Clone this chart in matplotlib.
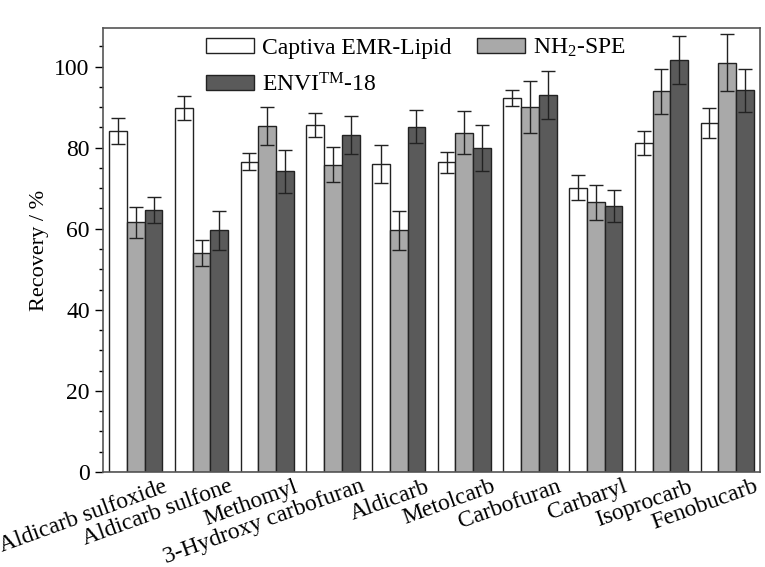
import matplotlib
matplotlib.use("Agg")
import matplotlib.pyplot as plt
import matplotlib.transforms as mtransforms
import numpy as np

plt.rcParams["font.family"] = ["Liberation Serif", "DejaVu Serif"]
plt.rcParams["mathtext.fontset"] = "custom"
plt.rcParams["mathtext.rm"] = "Liberation Serif"
plt.rcParams["mathtext.it"] = "Liberation Serif:italic"

compounds = [
    "Aldicarb sulfoxide", "Aldicarb sulfone", "Methomyl", "3-Hydroxy carbofuran",
    "Aldicarb", "Metolcarb", "Carbofuran", "Carbaryl", "Isoprocarb", "Fenobucarb",
]
series_labels = ["Captiva EMR-Lipid", "NH$_2$-SPE", "ENVI$^{\\mathrm{TM}}$-18"]

captiva = [84.0, 89.8, 76.5, 85.5, 75.9, 76.4, 92.2, 70.1, 81.2, 86.1]
captiva_err = [3.2, 3.0, 2.1, 3.0, 4.7, 2.6, 2.0, 3.1, 3.0, 3.7]
nh2 = [61.6, 54.0, 85.4, 75.8, 59.6, 83.7, 90.0, 66.5, 93.9, 100.9]
nh2_err = [3.8, 3.3, 4.7, 4.3, 4.8, 5.3, 6.4, 4.3, 5.5, 7.0]
envi = [64.6, 59.6, 74.2, 83.2, 85.2, 80.0, 92.9, 65.6, 101.6, 94.1]
envi_err = [3.3, 4.8, 5.3, 4.7, 4.0, 5.7, 5.9, 4.0, 6.0, 5.2]

values = [captiva, nh2, envi]
errors = [captiva_err, nh2_err, envi_err]
colors = ["#ffffff", "#a9a9a9", "#5a5a5a"]

fig = plt.figure(figsize=(7.65, 5.67), dpi=100)
ax = fig.add_axes([0.1346, 0.1675, 0.8589, 0.7831])

x = np.arange(len(compounds))
width = 0.27
handles = []
for k in range(3):
    b = ax.bar(x + (k - 1) * width, values[k], width, color=colors[k],
               edgecolor="#222222", linewidth=1.0,
               yerr=errors[k], capsize=5,
               error_kw=dict(ecolor="#222222", elinewidth=1.0, capthick=1.0))
    handles.append(b)

ax.set_xlim(-0.5, 9.5)
ax.set_ylim(0, 109.5)
ax.set_yticks(np.arange(0, 101, 20))
ax.set_yticks(np.arange(0, 110, 5), minor=True)
ax.tick_params(axis="y", which="major", direction="out", length=6, width=1, labelsize=17)
ax.tick_params(axis="y", which="minor", direction="out", length=3, width=1)
ax.set_xticks(x)
ax.set_xticklabels(compounds, rotation=20, ha="right", fontsize=17)
ax.tick_params(axis="x", length=0, pad=3)
shift = mtransforms.ScaledTranslation(0.34, 0, fig.dpi_scale_trans)
for lbl in ax.get_xticklabels():
    lbl.set_transform(lbl.get_transform() + shift)

ax.set_ylabel("Recovery / %", fontsize=16, labelpad=4)
for s in ax.spines.values():
    s.set_color("#555555")
    s.set_linewidth(1.2)

ax.legend([handles[0], handles[2], handles[1]],
          [series_labels[0], series_labels[2], series_labels[1]],
          ncol=2, frameon=False, fontsize=17, loc="upper left",
          bbox_to_anchor=(0.136, 1.012), handlelength=2.0, handleheight=0.6,
          handletextpad=0.35, labelspacing=0.6, columnspacing=1.1,
          borderaxespad=0.2)

fig.savefig("out.png", dpi=100)
